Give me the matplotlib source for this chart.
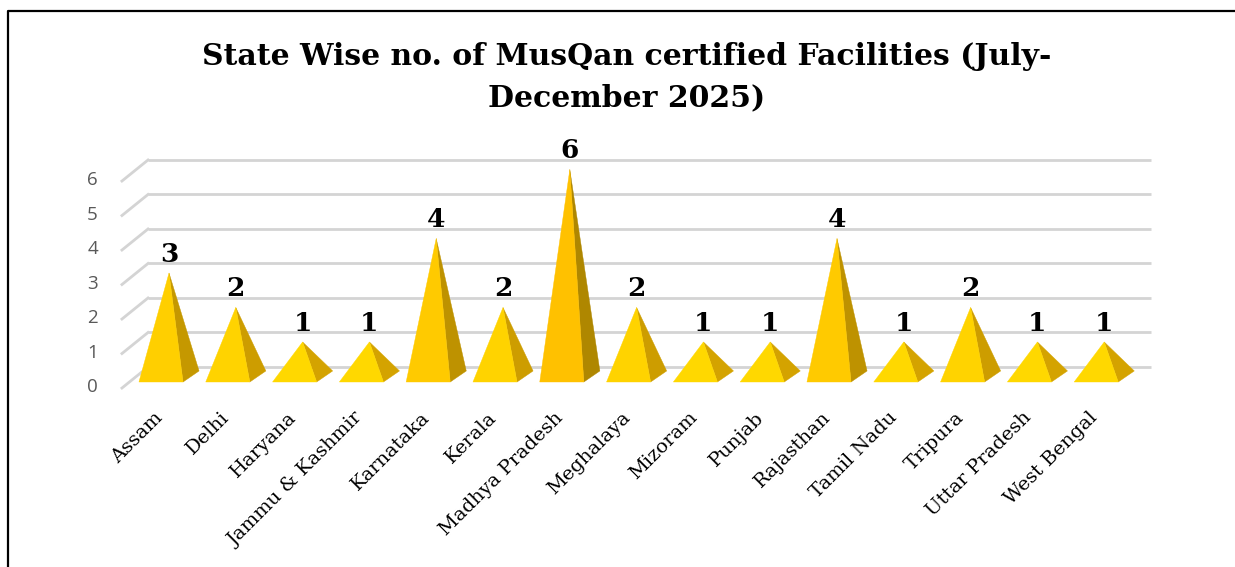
"""
State-wise MusQan certified facilities (Jul-Dec 2025) - pseudo 3D pyramid chart.
"""

import numpy as np
import matplotlib
matplotlib.use("Agg")
import matplotlib.pyplot as plt
from matplotlib.colors import to_rgb
from matplotlib.lines import Line2D

# -----------------------------------------------------------------------------
# Data
# -----------------------------------------------------------------------------
states = ["Assam", "Delhi", "Haryana", "Jammu & Kashmir", "Karnataka", "Kerala",
          "Madhya Pradesh", "Meghalaya", "Mizoram", "Punjab", "Rajasthan",
          "Tamil Nadu", "Tripura", "Uttar Pradesh", "West Bengal"]
facilities = [3, 2, 1, 1, 4, 2, 6, 2, 1, 1, 4, 1, 2, 1, 1]
y_ticks = [0, 1, 2, 3, 4, 5, 6]
title = "State Wise no. of MusQan certified Facilities (July-\nDecember 2025)"

# -----------------------------------------------------------------------------
# Layout (pixels of a 1235x567 canvas) and 3D look
# -----------------------------------------------------------------------------
W, H, DPI = 1235, 567, 100
X0_PX, DX_PX = 161, 66.8      # first category centre, category spacing
Y0_PX, DY_PX = 382, 34.5      # floor line, one unit of value

HALF_W = 0.33                 # half width of pyramid base (category units)
DEPTH = (0.24, 0.32)          # depth vector of a pyramid base
WALL = (0.39, 0.61)           # depth vector of the back wall
WALL_X0 = (148 - X0_PX) / DX_PX
WALL_X1 = (1151 - X0_PX) / DX_PX

FRONT_LO, FRONT_HI = "#FFD800", "#FFC100"
SIDE_LO, SIDE_HI = "#D4A300", "#AF8700"
GRID = "#D4D4D4"


def blend(c1, c2, t):
    a, b = np.array(to_rgb(c1)), np.array(to_rgb(c2))
    return tuple(a + (b - a) * t)


fig = plt.figure(figsize=(W / DPI, H / DPI), dpi=DPI)
ax = fig.add_axes([0, 0, 1, 1])
ax.set_xlim(-X0_PX / DX_PX, (W - X0_PX) / DX_PX)
ax.set_ylim((Y0_PX - H) / DY_PX, Y0_PX / DY_PX)
ax.axis("off")

# back wall gridlines + left floor/side diagonals
back_off = WALL[1] - 0.175
for t in y_ticks:
    yb = t + back_off
    ax.plot([WALL_X0, WALL_X1], [yb, yb], color=GRID, lw=2.0, zorder=1,
            solid_capstyle="butt")
    ax.plot([WALL_X0 - WALL[0], WALL_X0], [yb - WALL[1], yb], color=GRID,
            lw=2.0, zorder=1)
    ax.text(WALL_X0 - WALL[0] - 0.44, yb - WALL[1] + 0.03, str(t),
            ha="center", va="center", fontsize=13.5, color="#595959",
            family="Open Sans")

# pyramids
for i, (name, v) in enumerate(zip(states, facilities)):
    t = (v - 1) / 5.0
    fl = (i - HALF_W, 0)
    fr = (i + HALF_W, 0)
    br = (i + HALF_W + DEPTH[0], DEPTH[1])
    apex = (i + DEPTH[0] / 2, DEPTH[1] / 2 + v)
    ax.fill([fr[0], br[0], apex[0]], [fr[1], br[1], apex[1]],
            color=blend(SIDE_LO, SIDE_HI, t), lw=0.3, zorder=3)
    ax.fill([fl[0], fr[0], apex[0]], [fl[1], fr[1], apex[1]],
            color=blend(FRONT_LO, FRONT_HI, t), lw=0.3, zorder=4)
    ax.text(apex[0], apex[1] + 0.55, str(v), ha="center", va="center",
            fontsize=19, fontweight="bold", family="DejaVu Serif", zorder=5)
    ax.text(i - 0.02, -0.95, name, rotation=45, rotation_mode="anchor",
            ha="right", va="center", fontsize=14, family="DejaVu Serif")

fig.text(627 / W, 1 - 77 / H, title, ha="center", va="center",
         fontsize=21.5, fontweight="bold", family="DejaVu Serif",
         linespacing=1.55)

# outer frame (left and top edge visible)
fig.add_artist(Line2D([8 / W, 8 / W, 1.0], [0.0, 1 - 11 / H, 1 - 11 / H],
                      transform=fig.transFigure, color="black", lw=1.6))

fig.savefig("out.png", dpi=DPI)
